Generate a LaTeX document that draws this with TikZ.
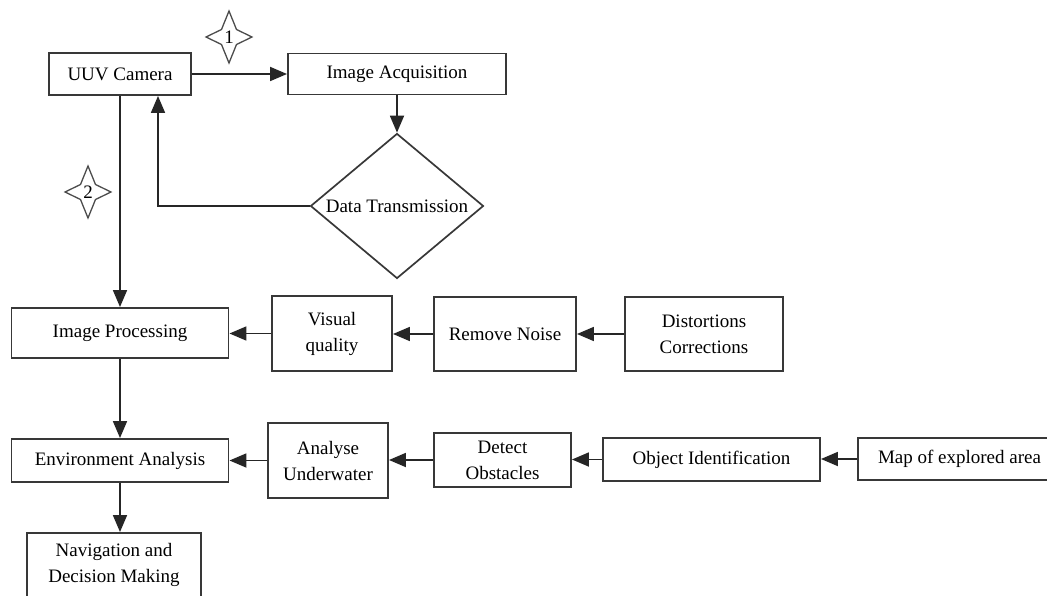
\documentclass[tikz,border=0pt]{standalone}
\usepackage{fontspec}
\setmainfont{Liberation Serif}
\usetikzlibrary{arrows.meta,shapes.geometric,calc}

\tikzset{
  box/.style={draw=black!78, line width=1.9pt, fill=white, rectangle, inner sep=0pt,
    align=center, font=\fontsize{19}{26}\selectfont},
  dia/.style={draw=black!78, line width=1.7pt, fill=white, diamond, inner sep=0pt,
    font=\fontsize{19}{26}\selectfont},
  arr/.style={draw=black!85, line width=1.8pt, -{Triangle[length=17pt,width=14pt]}},
  starline/.style={draw=black!70, line width=1.3pt, line join=miter},
  starnum/.style={inner sep=0pt, font=\fontsize{19}{20}\selectfont},
  pics/fourstar/.style={code={
    \draw[starline] (0,-26) -- (7.5,-7.5) -- (23,0) -- (7.5,7.5) -- (0,26)
      -- (-7.5,7.5) -- (-23,0) -- (-7.5,-7.5) -- cycle;
  }}
}

\begin{document}
\begin{tikzpicture}[x=1pt,y=-1pt]
\useasboundingbox (0,0) rectangle (1047,596);
\clip (0,0) rectangle (1047,596);

% upper loop
\node[box, minimum width=142pt, minimum height=42pt] (uuv) at (120,74) {UUV Camera};
\node[box, minimum width=218pt, minimum height=41pt] (acq) at (397,74) {Image Acquisition};
\node[dia, minimum width=173pt, minimum height=145pt, aspect=1.19] (dt) at (397,206) {Data Transmission};

% processing row
\node[box, minimum width=217pt, minimum height=50pt] (proc) at (120,333) {Image Processing};
\node[box, minimum width=120pt, minimum height=75pt] (vis) at (332,333.5) {Visual\\quality};
\node[box, minimum width=142pt, minimum height=74pt] (noise) at (505,334) {Remove Noise};
\node[box, minimum width=158pt, minimum height=74pt] (dist) at (704,334) {Distortions\\Corrections};

% analysis row
\node[box, minimum width=217pt, minimum height=43pt] (env) at (120,460.5) {Environment Analysis};
\node[box, minimum width=120pt, minimum height=75pt] (anal) at (328,460.5) {Analyse\\Underwater};
\node[box, minimum width=137pt, minimum height=54pt] (det) at (502.5,460) {Detect\\Obstacles};
\node[box, minimum width=217pt, minimum height=43pt] (obj) at (711.5,459.5) {Object Identification};
\node[box, minimum width=203pt, minimum height=42pt] (map) at (959.5,459) {Map of explored area};

% outcome
\node[box, minimum width=174pt, minimum height=64pt] (nav) at (114,565) {Navigation and\\Decision Making};

% step markers
\coordinate (s1) at (229,37);
\coordinate (s2) at (88,192);
\pic at (s1) {fourstar};
\pic at (s2) {fourstar};
\node[starnum] (n1) at (s1) {1};
\node[starnum] (n2) at (s2) {2};

% connectors
\coordinate (fb) at ($(uuv.south)+(38,0)$);
\draw[arr] (uuv.east) -- (acq.west);
\draw[arr] (acq.south) -- (dt.north);
\draw[arr] (dt.west) -| (fb);
\draw[arr] (uuv.south) -- (proc.north);
\draw[arr] (vis.west) -- (vis.west -| proc.east);
\draw[arr] (noise.west) -- (noise.west -| vis.east);
\draw[arr] (dist.west) -- (dist.west -| noise.east);
\draw[arr] (proc.south) -- (env.north);
\draw[arr] (anal.west) -- (anal.west -| env.east);
\draw[arr] (det.west) -- (det.west -| anal.east);
\draw[arr] (obj.west) -- (obj.west -| det.east);
\draw[arr] (map.west) -- (map.west -| obj.east);
\draw[arr] (env.south) -- (env.south |- nav.north);
\end{tikzpicture}
\end{document}
